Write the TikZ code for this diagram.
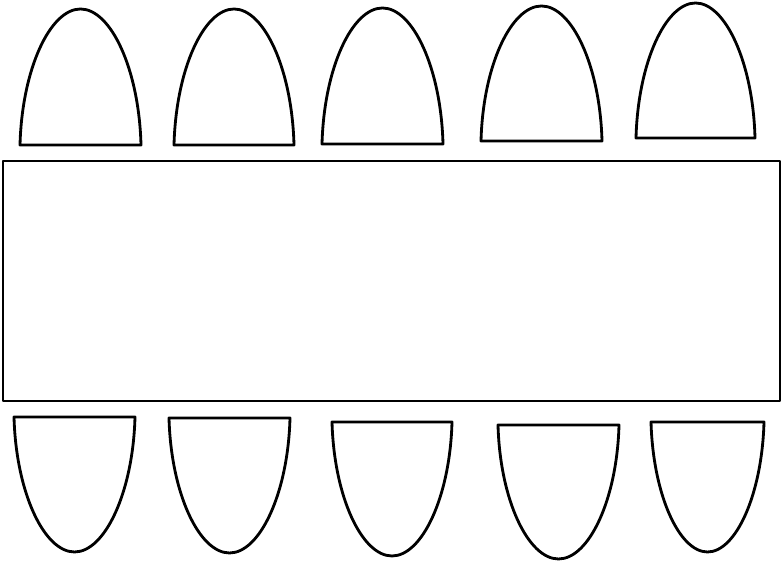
\documentclass[tikz,border=0pt]{standalone}
\begin{document}
\begin{tikzpicture}[x=0.01cm,y=-0.01cm,line width=0.8pt,line join=round]
	\useasboundingbox (0,0) rectangle (782,562);
	% table
	\draw (3,161) rectangle (780,401);
	% chairs, top row
	\foreach \l/\r/\b/\t in {20/141/145/9,174/294/145/9,322/443/144/8,481/602/141/6,636/755/138/3} {
		\pgfmathsetmacro\m{(\l+\r)/2}
		\pgfmathsetmacro\h{\b-\t}
		\pgfmathsetmacro\a{(\r-\l)/2}
		\draw (\l,\b) .. controls ({\l+2},{\b-0.56*\h}) and ({\m-0.5*\a},\t) .. (\m,\t)
			.. controls ({\m+0.5*\a},\t) and ({\r-2},{\b-0.56*\h}) .. (\r,\b) -- cycle;
	}
	% chairs, bottom row
	\foreach \l/\r/\b/\t in {14/135/552/417,169/290/553/418,332/452/556/422,498/619/559/425,651/764/552/422} {
		\pgfmathsetmacro\m{(\l+\r)/2}
		\pgfmathsetmacro\h{\b-\t}
		\pgfmathsetmacro\a{(\r-\l)/2}
		\draw (\l,\t) .. controls ({\l+2},{\t+0.56*\h}) and ({\m-0.5*\a},\b) .. (\m,\b)
			.. controls ({\m+0.5*\a},\b) and ({\r-2},{\t+0.56*\h}) .. (\r,\t) -- cycle;
	}
\end{tikzpicture}
\end{document}
